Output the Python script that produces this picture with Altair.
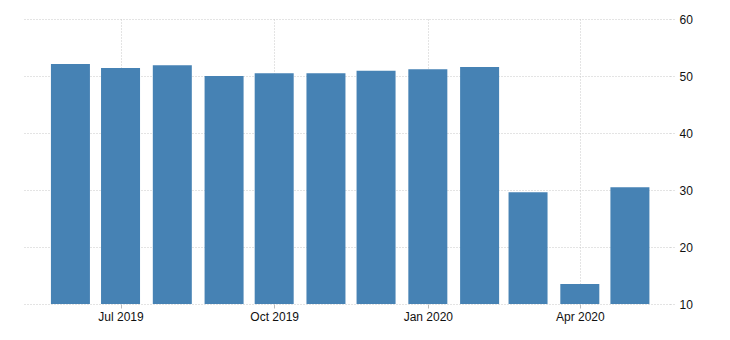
import altair as alt
import pandas as pd

months = ["2019-06-01", "2019-07-01", "2019-08-01", "2019-09-01", "2019-10-01", "2019-11-01",
          "2019-12-01", "2020-01-01", "2020-02-01", "2020-03-01", "2020-04-01", "2020-05-01"]
values = [52.1, 51.4, 51.9, 50.0, 50.5, 50.5, 50.9, 51.2, 51.6, 29.6, 13.5, 30.5]

df = pd.DataFrame({"date": months, "value": values})

x_ticks = [alt.DateTime(year=2019, month=7, date=1), alt.DateTime(year=2019, month=10, date=1),
           alt.DateTime(year=2020, month=1, date=1), alt.DateTime(year=2020, month=4, date=1)]

grid_color = "#c8c8c8"

chart = alt.Chart(df).mark_bar(size=39, color="#4682b4").encode(
    x=alt.X("date:T",
            scale=alt.Scale(domain=[alt.DateTime(year=2019, month=5, date=3),
                                    alt.DateTime(year=2020, month=5, date=25)],
                            padding=0),
            axis=alt.Axis(values=x_ticks, format="%b %Y", title=None, grid=True,
                          gridColor=grid_color, gridDash=[1, 2], domain=False,
                          tickColor="#bbbbbb", tickSize=4,
                          labelPadding=3, labelFont="Liberation Sans", labelFontSize=12,
                          labelColor="#111")),
    y=alt.Y("value:Q",
            scale=alt.Scale(domain=[10, 60], nice=False, zero=False),
            axis=alt.Axis(orient="right", values=[10, 20, 30, 40, 50, 60], title=None,
                          grid=True, gridColor=grid_color, gridDash=[1, 2], domain=False,
                          tickColor=grid_color, tickSize=6, tickDash=[1, 2],
                          labelPadding=3, labelFont="Liberation Sans", labelFontSize=12,
                          labelColor="#111")),
    y2=alt.datum(10),
).properties(
    width=648, height=285,
    autosize=alt.AutoSizeParams(type="none"),
    padding={"left": 22, "top": 19, "right": 60, "bottom": 36},
).configure_view(stroke=None)

chart.save("out.html", embed_options={"renderer": "svg", "actions": False})
